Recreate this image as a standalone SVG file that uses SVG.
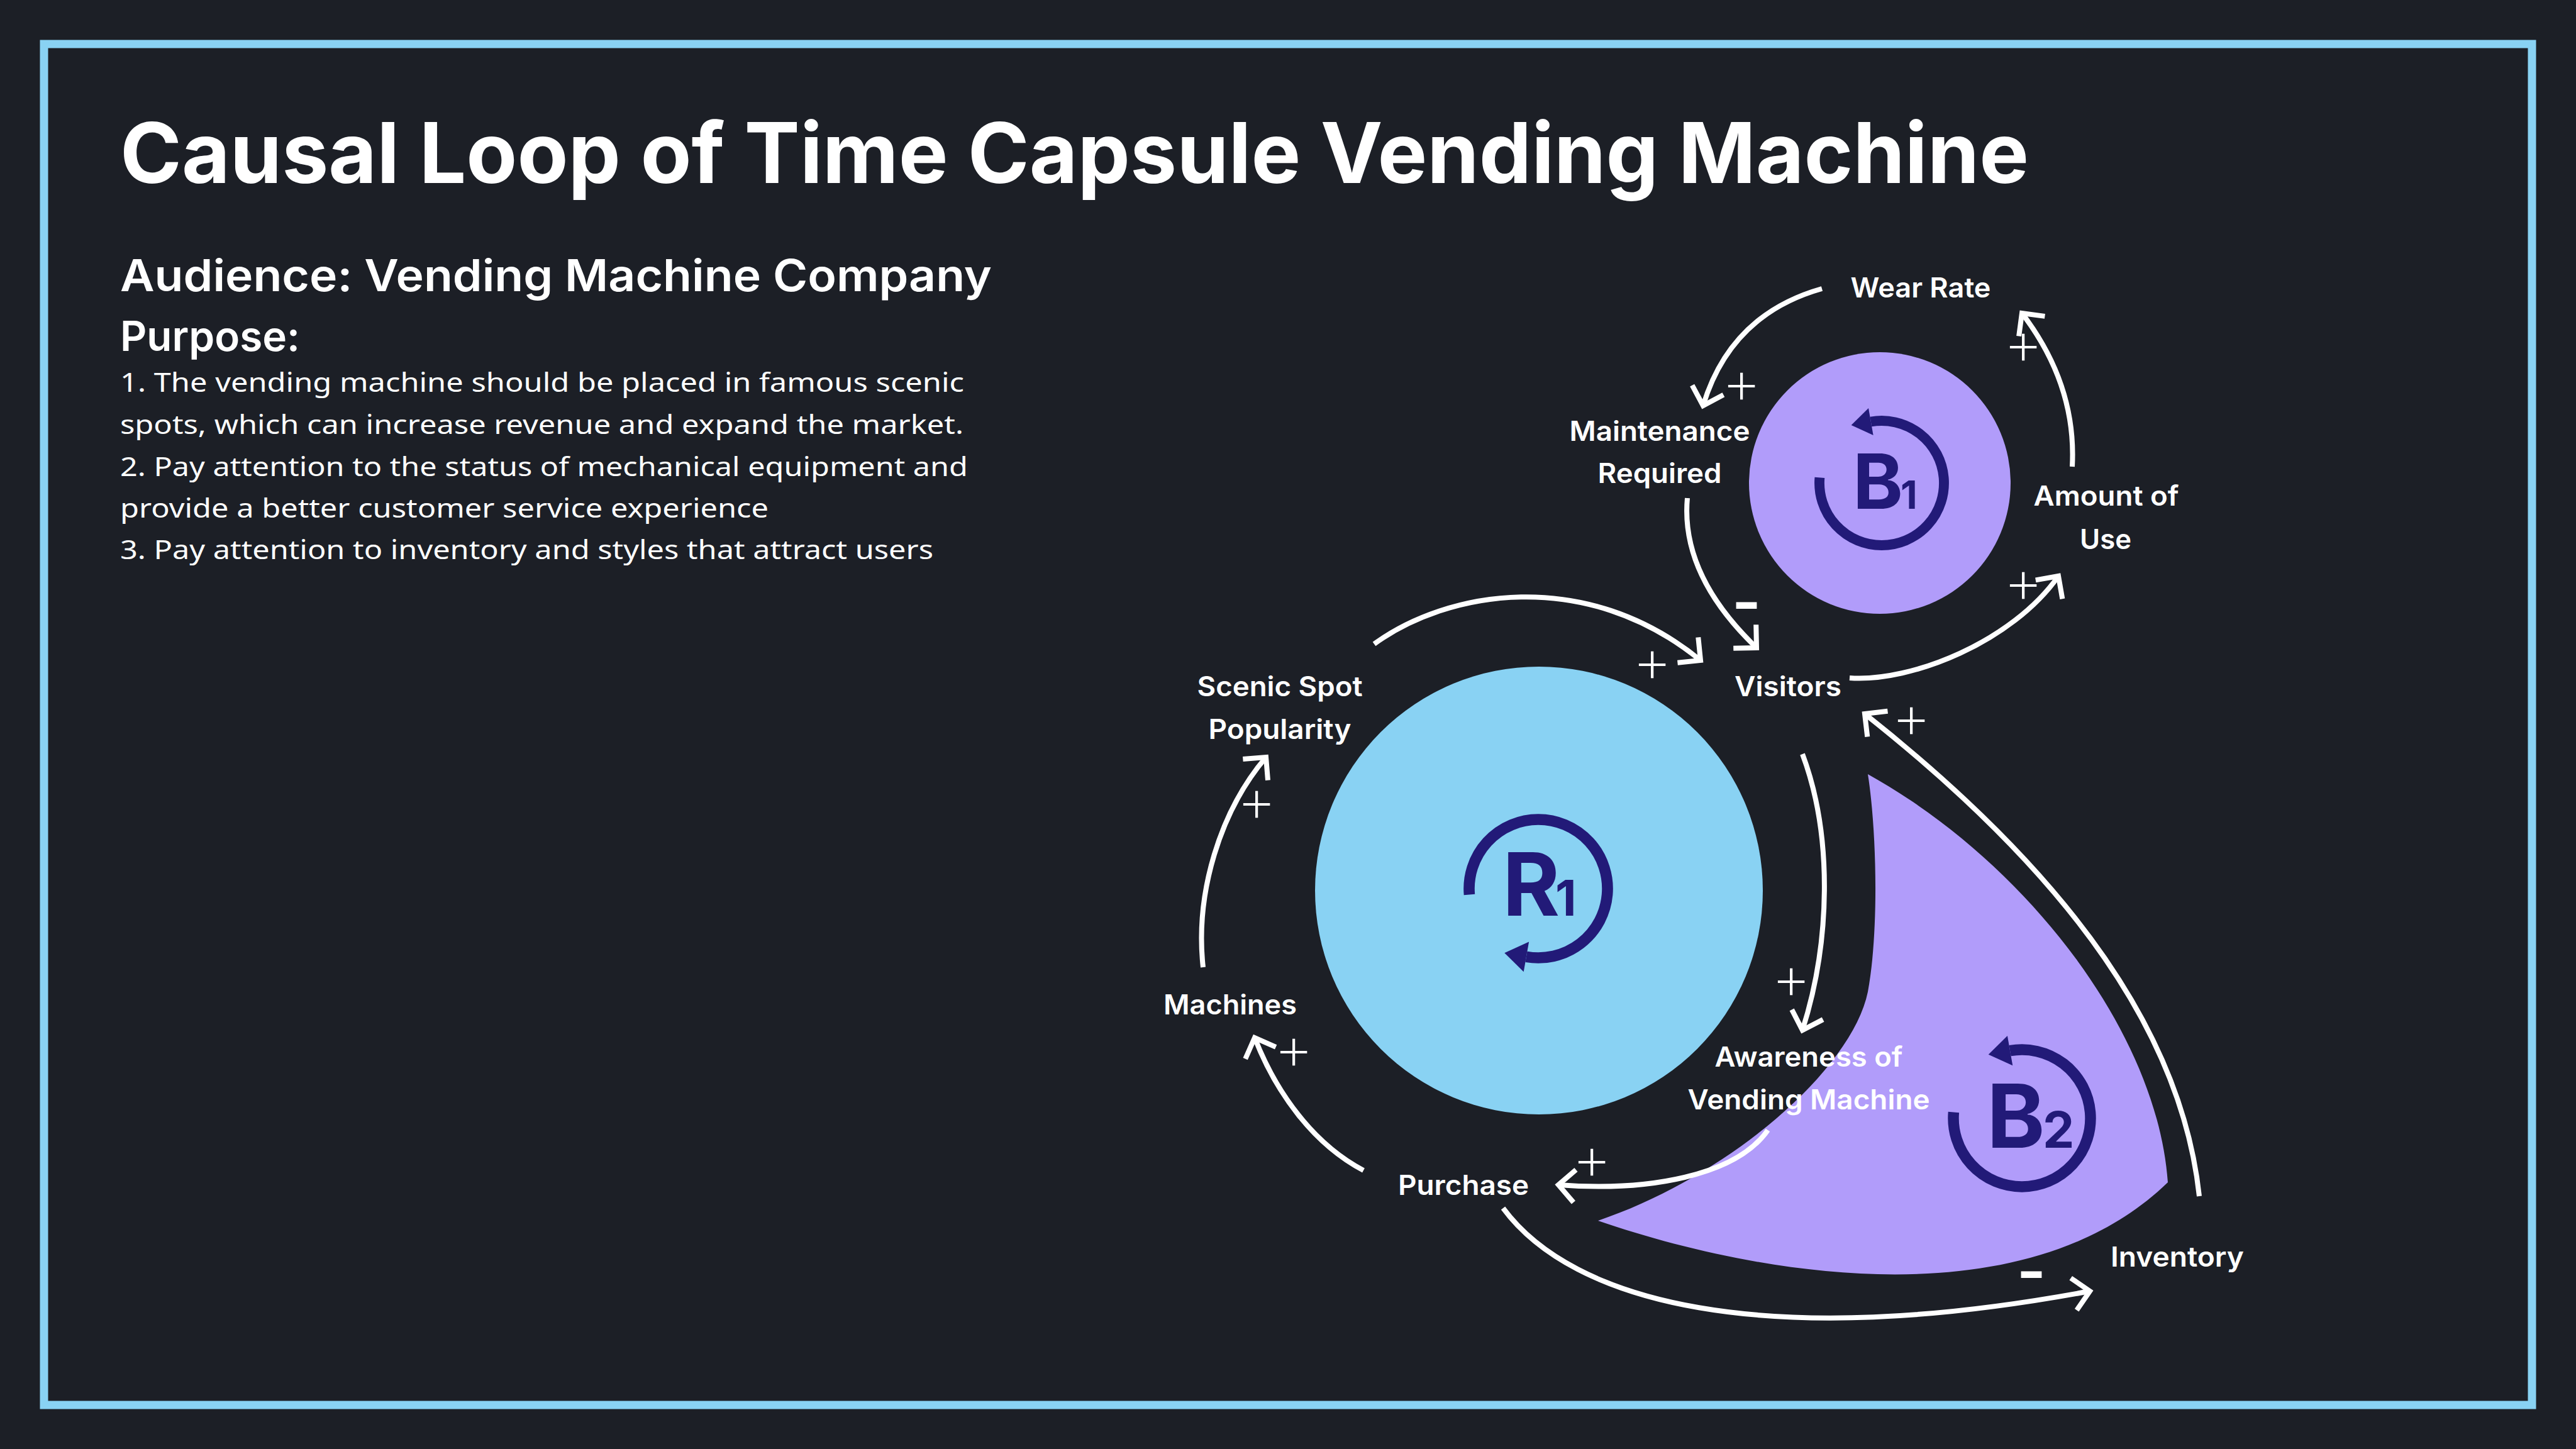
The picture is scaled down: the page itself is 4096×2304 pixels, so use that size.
<svg xmlns="http://www.w3.org/2000/svg" width="4096" height="2304" viewBox="0 0 4096 2304">
<defs>
<style>
.lbl{font-family:Inter,"Noto Sans","Liberation Sans",sans-serif;font-weight:600;font-size:44px;fill:#ffffff;text-anchor:middle}
.body{font-family:"Noto Sans","Open Sans","Liberation Sans",sans-serif;font-weight:400;font-size:42px;fill:#ffffff}
.head{font-family:Inter,"Noto Sans","Liberation Sans",sans-serif;fill:#ffffff}
.conn{fill:none;stroke:#ffffff;stroke-width:8;marker-end:url(#arr)}
.plus{font-family:Inter,"DejaVu Sans",sans-serif;font-weight:200;font-size:98px;fill:#ffffff;text-anchor:middle}
.minus{font-family:Inter,"DejaVu Sans",sans-serif;font-weight:600;font-size:100px;fill:#ffffff;text-anchor:middle}
.loopname{font-family:Inter,"Noto Sans","Liberation Sans",sans-serif;font-weight:700;fill:#221a78}
</style>
<marker id="arr" markerUnits="userSpaceOnUse" viewBox="-40 -40 80 80" markerWidth="80" markerHeight="80" refX="0" refY="0" orient="auto" overflow="visible">
<path d="M -26 -26 L 0 0 L -26 26" fill="none" stroke="#ffffff" stroke-width="8" stroke-linejoin="miter"/>
</marker>
<g id="loopIcon">
<path d="M -99.62 -8.72 A 100 100 0 1 0 -17.36 -98.48" fill="none" stroke="#221a78" stroke-width="16"/>
<path d="M -21.19 -120.15 L -48.88 -92.91 L -13.53 -76.81 Z" fill="#221a78"/>
</g>
</defs>
<rect x="0" y="0" width="4096" height="2304" fill="#1c1f26"/>
<rect x="70" y="70" width="3956" height="2164" fill="none" stroke="#89d2f3" stroke-width="13"/>

<g id="title-block">
<text class="head" x="191" y="291" font-size="133" font-weight="700" textLength="3035" lengthAdjust="spacingAndGlyphs">Causal Loop of Time Capsule Vending Machine</text>
<text class="head" x="191" y="463" font-size="70" font-weight="600" textLength="1386" lengthAdjust="spacingAndGlyphs">Audience: Vending Machine Company</text>
<text class="head" x="191" y="558" font-size="66" font-weight="600" textLength="286" lengthAdjust="spacingAndGlyphs">Purpose:</text>
<text class="body" x="191" y="623" textLength="1342" lengthAdjust="spacingAndGlyphs">1. The vending machine should be placed in famous scenic</text>
<text class="body" x="191" y="690" textLength="1341" lengthAdjust="spacingAndGlyphs">spots, which can increase revenue and expand the market.</text>
<text class="body" x="191" y="757" textLength="1348" lengthAdjust="spacingAndGlyphs">2. Pay attention to the status of mechanical equipment and</text>
<text class="body" x="191" y="823" textLength="1031" lengthAdjust="spacingAndGlyphs">provide a better customer service experience</text>
<text class="body" x="191" y="889" textLength="1293" lengthAdjust="spacingAndGlyphs">3. Pay attention to inventory and styles that attract users</text>
</g>

<g id="loop-R1">
<circle cx="2447" cy="1416" r="356" fill="#89d2f3"/>
<use href="#loopIcon" transform="translate(2446 1413) scale(1.1 -1.1)"/>
<text class="loopname" x="2389" y="1456" font-size="139">R</text>
<text class="loopname" x="2473" y="1456" font-size="78">1</text>
</g>

<g id="loop-B1">
<circle cx="2989" cy="768" r="208" fill="#b19cfa"/>
<use href="#loopIcon" transform="translate(2992 768) scale(0.99)"/>
<text class="loopname" x="2946" y="809" font-size="121">B</text>
<text class="loopname" x="3022" y="809" font-size="62">1</text>
</g>

<g id="loop-B2">
<path d="M 2970 1231 C 2984 1320 2988 1480 2970 1577 C 2945 1700 2750 1870 2541 1941 C 2800 2030 3220 2100 3447 1880 C 3430 1640 3220 1370 2970 1231 Z" fill="#b19cfa"/>
<use href="#loopIcon" transform="translate(3215 1778) scale(1.09)"/>
<text class="loopname" x="3159" y="1825" font-size="140">B</text>
<text class="loopname" x="3248" y="1825" font-size="80">2</text>
</g>

<g id="connectors">
<path class="conn" d="M 2897 459 Q 2752 500 2708 645"/>
<path class="conn" d="M 3295 742 C 3300 650 3270 570 3215 498"/>
<path class="conn" d="M 2941 1078 C 3040 1085 3200 1020 3273 916"/>
<path class="conn" d="M 2683 792 C 2675 880 2720 960 2793 1030"/>
<path class="conn" d="M 2185 1024 C 2300 940 2520 900 2704 1050"/>
<path class="conn" d="M 2866 1199 C 2915 1330 2910 1500 2866 1638"/>
<path class="conn" d="M 2811 1797 C 2760 1870 2620 1895 2478 1884"/>
<path class="conn" d="M 2168 1861 C 2090 1820 2030 1740 1995 1650"/>
<path class="conn" d="M 1913 1538 C 1900 1420 1940 1290 2013 1204"/>
<path class="conn" d="M 3497 1902 C 3470 1650 3300 1400 2965 1135"/>
<path class="conn" d="M 2390 1921 C 2500 2070 2800 2150 3323 2053"/>
<text class="plus" x="2769" y="642">+</text>
<text class="plus" x="3217" y="580">+</text>
<text class="plus" x="3217" y="959">+</text>
<text class="plus" x="2627" y="1085">+</text>
<text class="plus" x="2848" y="1589">+</text>
<text class="plus" x="2531" y="1876">+</text>
<text class="plus" x="2057" y="1701">+</text>
<text class="plus" x="1998" y="1307">+</text>
<text class="plus" x="3039" y="1174">+</text>
<text class="minus" x="2777" y="993">-</text>
<text class="minus" x="3230" y="2057">-</text>
</g>

<g id="node-wear-rate"><text class="lbl" x="3054" y="473" textLength="223" lengthAdjust="spacingAndGlyphs">Wear Rate</text></g>
<g id="node-maintenance"><text class="lbl" x="2639" y="701" textLength="287" lengthAdjust="spacingAndGlyphs">Maintenance</text><text class="lbl" x="2639" y="768" textLength="197" lengthAdjust="spacingAndGlyphs">Required</text></g>
<g id="node-amount-of-use"><text class="lbl" x="3349" y="804" textLength="231" lengthAdjust="spacingAndGlyphs">Amount of</text><text class="lbl" x="3348" y="873" textLength="82" lengthAdjust="spacingAndGlyphs">Use</text></g>
<g id="node-visitors"><text class="lbl" x="2843" y="1107" textLength="170" lengthAdjust="spacingAndGlyphs">Visitors</text></g>
<g id="node-scenic"><text class="lbl" x="2035" y="1107" textLength="263" lengthAdjust="spacingAndGlyphs">Scenic Spot</text><text class="lbl" x="2035" y="1175" textLength="227" lengthAdjust="spacingAndGlyphs">Popularity</text></g>
<g id="node-machines"><text class="lbl" x="1956" y="1613" textLength="212" lengthAdjust="spacingAndGlyphs">Machines</text></g>
<g id="node-awareness"><text class="lbl" x="2876" y="1696" textLength="299" lengthAdjust="spacingAndGlyphs">Awareness of</text><text class="lbl" x="2876" y="1764" textLength="385" lengthAdjust="spacingAndGlyphs">Vending Machine</text></g>
<g id="node-purchase"><text class="lbl" x="2327" y="1900" textLength="208" lengthAdjust="spacingAndGlyphs">Purchase</text></g>
<g id="node-inventory"><text class="lbl" x="3462" y="2014" textLength="212" lengthAdjust="spacingAndGlyphs">Inventory</text></g>
</svg>
